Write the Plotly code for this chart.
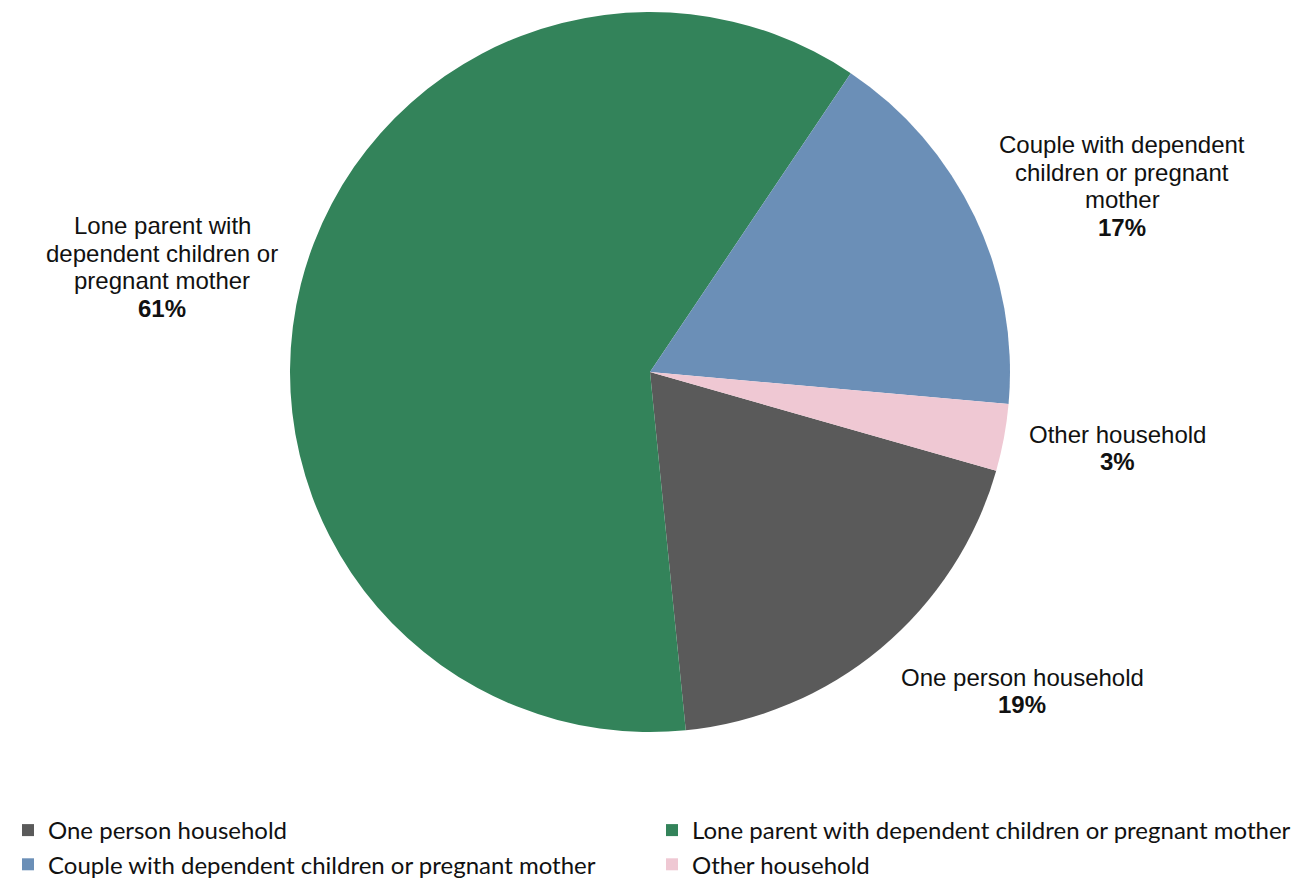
import plotly.graph_objects as go

categories = ["One person household",
              "Lone parent with dependent children or pregnant mother",
              "Couple with dependent children or pregnant mother",
              "Other household"]
label_lines = [["One person household"],
               ["Lone parent with", "dependent children or", "pregnant mother"],
               ["Couple with dependent", "children or pregnant", "mother"],
               ["Other household"]]
values = [19, 61, 17, 3]
colors = ["#5A5A5A", "#33835A", "#6B8FB7", "#EFC8D3"]

W, H = 1309, 882
OFF = 8  # page body margin


def fx(px):
    return (px - OFF) / W


def fy(py):
    return 1 - (py - OFF) / H


fig = go.Figure(go.Pie(
    labels=categories,
    values=values,
    sort=False,
    direction="clockwise",
    rotation=105.9,
    marker=dict(colors=colors, line=dict(width=0)),
    textinfo="none",
    hoverinfo="label+percent",
    domain=dict(x=[fx(290), fx(1010)], y=[fy(732), fy(12)]),
))

# label block centres (pixels) for the outside labels
label_pos = [(1022, 691), (162, 267), (1122, 186), (1117, 448)]
LINE = 27.7
for lines, v, (px, py) in zip(label_lines, values, label_pos):
    all_lines = lines + [f"<b>{v}%</b>"]
    n = len(all_lines)
    for i, t in enumerate(all_lines):
        ly = py + (i - (n - 1) / 2) * LINE
        fig.add_annotation(
            x=fx(px), y=fy(ly), xref="paper", yref="paper",
            text=t, showarrow=False,
            font=dict(family="Liberation Sans, Arial", size=24, color="#111111"),
            align="center", xanchor="center", yanchor="middle",
        )

fig.update_layout(
    width=W, height=H,
    margin=dict(l=0, r=0, t=0, b=0),
    paper_bgcolor="white", plot_bgcolor="white",
    showlegend=True,
    legend=dict(
        orientation="h", x=0, xanchor="left", y=fy(887), yanchor="bottom",
        entrywidth=599, entrywidthmode="pixels",
        font=dict(family="Lato, DejaVu Sans", size=24, color="#111111"),
        itemwidth=30, traceorder="normal",
    ),
)

fig.write_html("out.html")
